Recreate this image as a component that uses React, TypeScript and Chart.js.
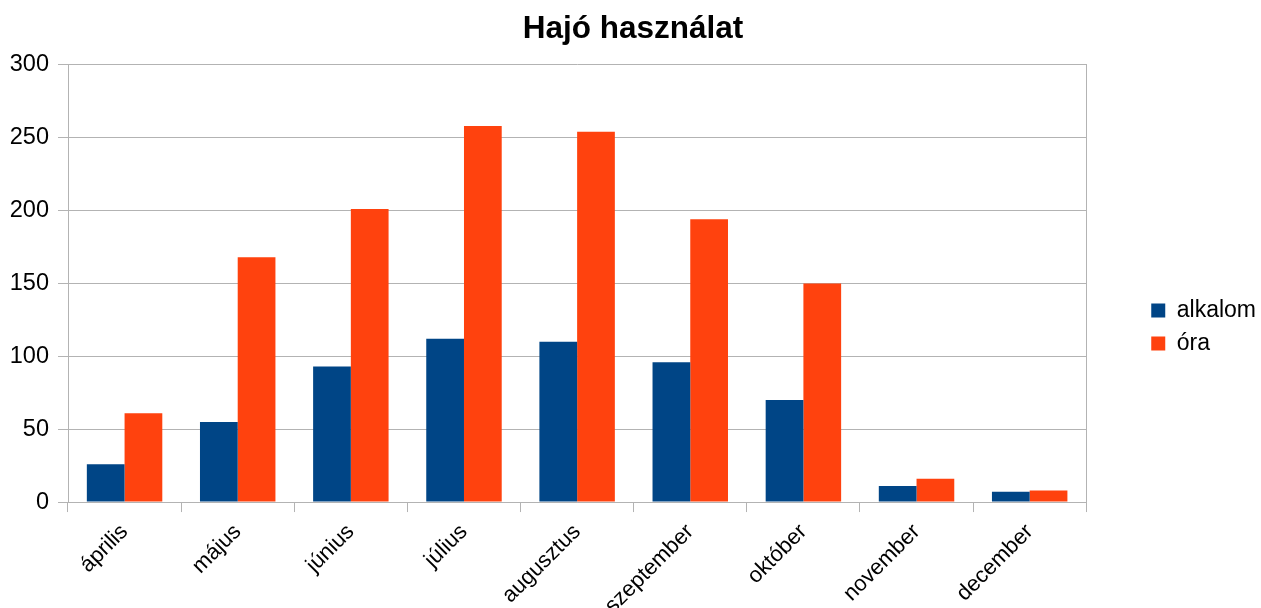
import React, { useEffect, useRef } from "react";
import { Chart, registerables } from "chart.js";

Chart.register(...registerables);

const categories = ["április", "május", "június", "július", "augusztus", "szeptember", "október", "november", "december"];
const alkalomValues = [26, 55, 93, 112, 110, 96, 70, 11, 7];
const oraValues = [61, 168, 201, 258, 254, 194, 150, 16, 8];
const yTicks = [0, 50, 100, 150, 200, 250, 300];

const FONT = "'Liberation Sans', Arial, sans-serif";
const GRID = "#b3b3b3";

export default function App() {
  const ref = useRef<HTMLCanvasElement | null>(null);
  useEffect(() => {
    if (!ref.current) return;
    const chart = new Chart(ref.current, {
      type: "bar",
      data: {
        labels: categories,
        datasets: [
          { label: "alkalom", data: alkalomValues, backgroundColor: "#004586", borderWidth: 0, yAxisID: "y" },
          { label: "óra", data: oraValues, backgroundColor: "#ff420e", borderWidth: 0, yAxisID: "y" },
        ],
      },
      options: {
        responsive: false,
        animation: false,
        datasets: { bar: { categoryPercentage: 0.667, barPercentage: 1.0 } },
        layout: { padding: { left: 0, right: 0, top: 0, bottom: 63 } },
        plugins: {
          title: {
            display: true,
            text: "Hajó használat",
            color: "#000",
            font: { family: FONT, size: 31.5, weight: "bold" },
            padding: { top: 10, bottom: 17 },
          },
          legend: {
            position: "right",
            align: "center",
            title: {
              display: true,
              text: "",
              font: { family: FONT, size: 10, lineHeight: 1 },
              padding: { top: 9, bottom: 9 },
            },
            labels: {
              color: "#000",
              font: { family: FONT, size: 23 },
              boxWidth: 14,
              boxHeight: 14,
              padding: 10,
            },
          },
          tooltip: { enabled: false },
        },
        scales: {
          x: {
            grid: { display: true, drawOnChartArea: false, drawTicks: true, tickLength: 10, color: GRID, offset: true },
            border: { display: true, color: GRID },
            ticks: {
              color: "#000",
              font: { family: FONT, size: 22 },
              minRotation: 45,
              maxRotation: 45,
              autoSkip: false,
              padding: 7,
            },
          },
          y: {
            position: "left",
            min: 0,
            max: 300,
            afterBuildTicks: (scale: any) => {
              scale.ticks = yTicks.map((v) => ({ value: v }));
            },
            afterFit: (scale: any) => {
              scale.width = 68;
            },
            grid: { color: GRID, tickLength: 10, drawTicks: true },
            border: { display: true, color: GRID },
            ticks: { color: "#000", font: { family: FONT, size: 23.5 }, padding: 9 },
          },
          y2: {
            type: "linear",
            position: "right",
            min: 0,
            max: 300,
            afterFit: (scale: any) => {
              scale.width = 55;
            },
            grid: { display: false, drawTicks: false },
            border: { display: true, color: GRID },
            ticks: { display: false },
          },
        },
      },
    });
    return () => chart.destroy();
  }, []);
  return (
    <div style={{ position: "fixed", left: 0, top: 0, width: 1261, height: 608, overflow: "hidden", background: "#fff" }}>
      <canvas ref={ref} width={1266} height={689} style={{ display: "block" }} />
    </div>
  );
}
